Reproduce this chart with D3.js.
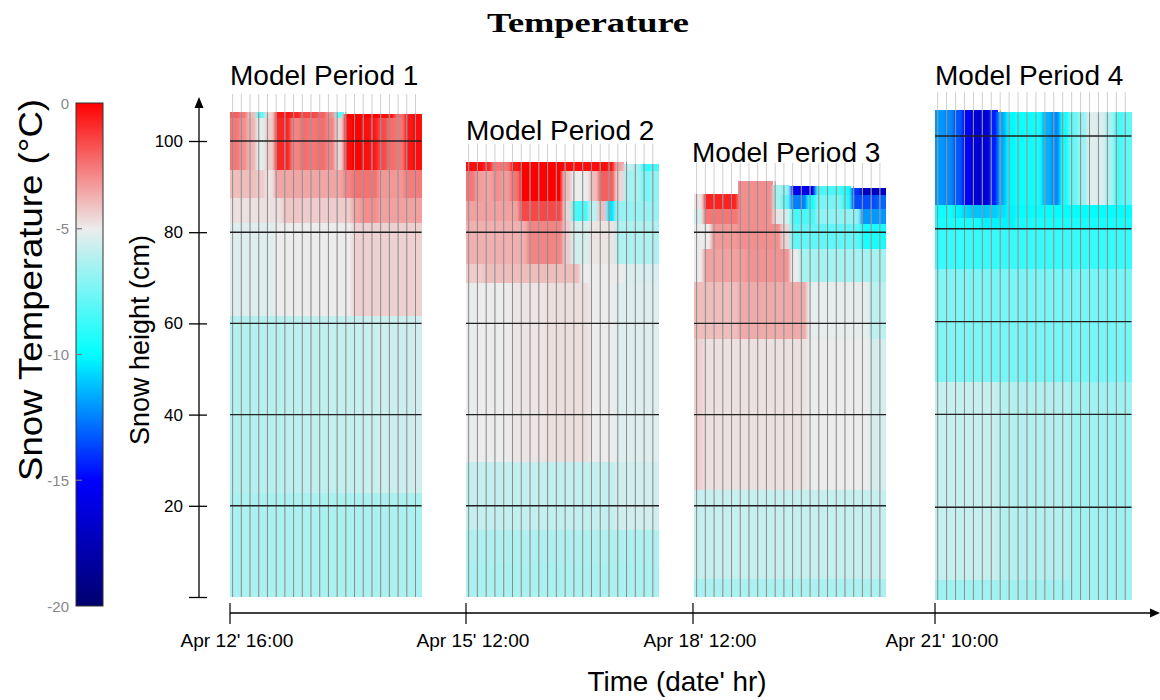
<!DOCTYPE html>
<html>
<head>
<meta charset="utf-8">
<script src="https://cdn.jsdelivr.net/npm/d3@7"></script>
<style>
  html, body { margin: 0; padding: 0; background: #fff; }
  svg { display: block; }
</style>
</head>
<body>
<svg id="chart" width="1160" height="700"></svg>
<script>
// ---------------- DATA ----------------
const chartTitle = "Temperature";
const panelNames = ["Model Period 1", "Model Period 2", "Model Period 3", "Model Period 4"];
const timeTickLabels = ["Apr 12' 16:00", "Apr 15' 12:00", "Apr 18' 12:00", "Apr 21' 10:00"];
const heightTicks = [0, 20, 40, 60, 80, 100];
const colorTicks = [0, -5, -10, -15, -20];
const colorDomain = [-20, -15, -10, -5, 0];
const xAxisTitle = "Time (date' hr)";
const yAxisTitle = "Snow height (cm)";
const colorTitle = "Snow Temperature (°C)";

// Model Period 1: layer bottoms (cm), column tops (cm), temperatures [layer][column] (°C)
const p1Bounds = [0, 22.8, 61.8, 82, 87.5, 93.8, 105.2];
const p1Tops = [106.3,106.3,106.3,106.3,106.3,106.3,106.3,106.3,106.3,106.3,106.3,106.3,106.3,106.0,106.0,106.0,106.0,106.0,106.0,106.0,106.0,106.0];
const p1Temps = [
  [-6.4,-6.4,-6.4,-6.4,-6.4,-6.4,-6.4,-6.4,-6.4,-6.4,-6.4,-6.4,-6.4,-6.4,-6.4,-6.4,-6.4,-6.4,-6.4,-6.4,-6.4,-6.4],
  [-6.2,-6.2,-6.2,-6.15,-6.1,-6.1,-6.05,-6.0,-6.0,-5.95,-5.95,-5.9,-5.9,-5.85,-5.8,-5.75,-5.75,-5.7,-5.7,-5.65,-5.65,-5.6],
  [-5.3,-5.3,-5.3,-5.3,-5.3,-5.0,-5.0,-5.0,-5.0,-5.0,-5.0,-5.0,-5.0,-5.0,-4.4,-4.4,-4.4,-4.4,-4.4,-4.4,-4.4,-4.4],
  [-4.75,-4.75,-4.75,-4.75,-4.75,-4.75,-4.2,-4.2,-4.3,-4.3,-4.3,-4.3,-4.3,-4.3,-3.4,-3.0,-3.0,-3.4,-3.4,-3.4,-3.4,-3.4],
  [-4.0,-4.0,-4.0,-4.3,-4.8,-3.5,-3.5,-3.5,-3.5,-3.5,-3.5,-3.5,-3.5,-2.8,-2.4,-2.4,-2.4,-3.2,-3.2,-3.2,-2.6,-2.6],
  [-2.5,-3.0,-3.8,-5.2,-4.3,-0.8,-0.8,-2.8,-2.3,-2.5,-2.3,-2.8,-4.5,-0.2,0,-0.3,-0.5,-1.5,-2.3,-2.5,-0.5,-0.3],
  [-2.0,-2.5,-4.0,-8.0,-4.5,-0.5,-0.5,-0.8,-1.5,-1.5,-2.0,-3.0,-8.0,0,0,0,0,-0.3,-0.5,-2.3,-0.5,-0.3]
];

// Model Period 2
const p2Bounds = [0, 7.7, 14.7, 29.6, 69, 73.2, 82.6, 87, 93.5];
const p2Tops = [95.4,95.4,95.4,95.4,95.4,95.4,95.4,95.4,95.4,95.4,95.4,95.4,95.4,95.4,95.4,95.4,95.4,95.4,95.0,95.0,95.0,95.0];
const p2Temps = [
  [-6.4,-6.4,-6.4,-6.4,-6.4,-6.4,-6.4,-6.4,-6.4,-6.4,-6.4,-6.4,-6.4,-6.4,-6.4,-6.4,-6.4,-6.4,-6.4,-6.4,-6.4,-6.4],
  [-6.3,-6.3,-6.3,-6.3,-6.3,-6.3,-6.3,-6.3,-6.3,-6.3,-6.3,-6.3,-6.3,-6.3,-6.3,-6.3,-6.3,-6.3,-6.3,-6.3,-6.3,-6.3],
  [-5.9,-5.9,-5.9,-5.9,-5.9,-5.9,-5.9,-5.9,-5.9,-5.9,-5.9,-5.9,-5.9,-5.9,-5.9,-5.9,-5.9,-5.6,-5.6,-5.6,-5.6,-5.6],
  [-5.1,-5.0,-5.0,-5.0,-5.0,-4.85,-4.85,-4.85,-4.85,-4.7,-4.7,-4.7,-4.7,-4.7,-5.0,-5.0,-5.0,-5.3,-5.3,-5.3,-5.3,-5.3],
  [-4.3,-4.3,-4.0,-4.0,-4.0,-4.0,-4.0,-4.0,-4.0,-4.0,-4.0,-4.0,-4.0,-5.0,-5.0,-5.0,-5.0,-5.0,-5.4,-5.4,-5.4,-5.4],
  [-3.7,-3.7,-3.7,-3.7,-3.7,-3.7,-3.7,-2.8,-2.8,-2.8,-2.8,-4.3,-5.5,-5.5,-4.8,-4.8,-4.8,-6.3,-6.3,-6.3,-6.3,-6.3],
  [-3.4,-3.4,-3.4,-3.4,-3.4,-3.4,-1.5,-1.5,-1.5,-1.5,-1.5,-4.5,-8.5,-8.5,-6.0,-4.0,-10.5,-6.8,-6.8,-6.8,-6.8,-6.8],
  [-2.5,-3.3,-3.5,-3.0,-3.3,-2.5,0,0,0,0,0,-4.0,-5.0,-5.0,-4.0,-2.0,-2.0,-4.5,-6.5,-6.5,-7.5,-7.0],
  [-0.3,-0.3,-0.8,-2.5,-2.5,-0.5,0,0,0,0,0,-0.2,-0.2,-0.2,-0.3,-0.3,-0.5,-3.5,-6.0,-6.5,-9.0,-8.5]
];

// Model Period 3
const p3Bounds = [0, 4.1, 23.5, 56.7, 69.1, 76.4, 81.9, 85.2, 88.3];
const p3Tops = [88.4,88.4,88.4,88.4,88.4,91.2,91.2,91.2,91.2,90.3,90.3,90.1,90.1,90.1,90.1,90.1,90.1,90.1,89.6,89.6,89.6,89.6];
const p3Temps = [
  [-6.4,-6.4,-6.4,-6.4,-6.4,-6.4,-6.4,-6.4,-6.4,-6.4,-6.4,-6.4,-6.4,-6.4,-6.4,-6.4,-6.4,-6.4,-6.4,-6.4,-6.4,-6.4],
  [-5.8,-5.8,-5.8,-5.8,-5.8,-5.8,-5.8,-5.8,-5.8,-5.8,-5.8,-5.8,-5.8,-5.8,-5.8,-5.8,-5.8,-5.8,-5.8,-5.8,-5.8,-5.8],
  [-4.4,-4.75,-4.75,-4.75,-4.75,-4.75,-4.75,-4.75,-4.75,-4.75,-4.75,-4.75,-4.75,-5.0,-5.0,-5.0,-5.0,-5.0,-5.0,-5.0,-5.5,-5.5],
  [-4.0,-4.0,-4.0,-4.0,-4.0,-3.6,-3.6,-3.6,-3.6,-3.6,-3.6,-3.6,-3.6,-5.1,-5.1,-5.1,-5.1,-5.1,-5.1,-5.1,-6.0,-6.0],
  [-5.0,-3.4,-3.4,-3.4,-3.4,-3.3,-3.1,-3.1,-3.1,-3.1,-3.1,-5.0,-6.5,-6.5,-6.5,-6.5,-6.5,-6.5,-6.5,-6.5,-6.5,-6.5],
  [-5.0,-5.0,-3.2,-3.2,-3.2,-3.0,-3.0,-3.0,-3.0,-3.0,-4.5,-8.0,-8.0,-8.0,-8.0,-8.0,-8.0,-8.0,-8.0,-9.5,-9.5,-9.5],
  [-5.5,-2.5,-2.5,-2.5,-2.5,-3.0,-3.0,-3.0,-3.0,-4.8,-5.5,-8.5,-8.5,-8.5,-7.0,-7.0,-7.0,-7.0,-7.0,-12.0,-12.0,-12.0],
  [-4.8,-0.7,-0.7,-0.7,-0.7,-3.0,-3.0,-3.0,-3.0,-6.5,-8.0,-12.5,-12.5,-9.5,-7.5,-7.5,-7.5,-9.0,-13.5,-13.5,-13.5,-13.0],
  [-4.8,-0.7,-0.7,-0.7,-0.7,-3.0,-3.0,-3.0,-3.0,-6.5,-7.0,-15.5,-15.5,-15.5,-8.5,-8.5,-8.5,-9.5,-14.0,-17.0,-17.0,-17.0]
];

// Model Period 4
const p4Bounds = [0, 4.3, 47, 71.5, 80, 82.5, 85.3];
const p4Tops = [105.5,105.5,105.5,105.5,105.5,105.5,105.5,105.1,105.1,105.1,105.1,105.1,105.1,105.1,105.1,105.1,105.1,105.1,105.1,105.1,105.1,105.1];
const p4Temps = [
  [-6.6,-6.6,-6.6,-6.6,-6.6,-6.6,-6.6,-6.6,-6.6,-6.6,-6.6,-6.6,-6.6,-6.6,-6.6,-6.6,-6.6,-6.6,-6.6,-6.6,-6.6,-6.6],
  [-5.8,-5.8,-5.8,-5.8,-5.8,-5.8,-5.8,-6.2,-6.2,-6.2,-6.2,-6.2,-6.2,-6.2,-6.2,-6.6,-6.6,-6.6,-6.6,-6.6,-6.6,-6.6],
  [-7.3,-7.3,-7.3,-7.4,-7.4,-7.4,-7.5,-7.5,-7.5,-7.5,-7.5,-7.5,-7.5,-7.5,-7.5,-7.5,-7.5,-7.5,-7.5,-7.5,-7.5,-7.5],
  [-8.9,-8.9,-8.9,-8.9,-8.9,-8.9,-8.9,-8.9,-8.9,-8.9,-8.9,-8.9,-8.9,-8.9,-8.9,-8.9,-8.9,-8.9,-8.9,-8.9,-8.9,-8.9],
  [-9.5,-9.5,-9.5,-9.5,-9.5,-10.2,-10.2,-10.2,-10.2,-9.6,-9.6,-9.6,-9.6,-9.6,-9.6,-9.6,-9.6,-9.6,-9.6,-9.6,-9.6,-9.6],
  [-9.8,-9.8,-10.3,-10.8,-11.2,-11.2,-11.0,-10.6,-10.2,-9.9,-9.9,-9.9,-9.9,-9.9,-9.9,-9.9,-9.9,-9.9,-9.9,-9.9,-9.9,-9.9],
  [-12.0,-12.3,-13.3,-15.0,-16.5,-16.3,-14.5,-11.7,-10.1,-9.8,-9.8,-9.8,-11.5,-12.3,-9.5,-7.8,-6.8,-5.3,-5.4,-6.5,-8.5,-8.0]
];

// ---------------- LAYOUT (positions / styles) ----------------
const panelData = [
  {bounds: p1Bounds, tops: p1Tops, temps: p1Temps},
  {bounds: p2Bounds, tops: p2Tops, temps: p2Temps},
  {bounds: p3Bounds, tops: p3Tops, temps: p3Temps},
  {bounds: p4Bounds, tops: p4Tops, temps: p4Temps}
];
const panelLayout = [
  {x0: 230, x1: 421.6, yBottom: 597, y100: 141, titleX: 230, titleY: 85},
  {x0: 466, x1: 659,   yBottom: 597, y100: 141, titleX: 466, titleY: 140},
  {x0: 694, x1: 886,   yBottom: 597, y100: 141, titleX: 692, titleY: 162},
  {x0: 935, x1: 1131.5, yBottom: 600, y100: 136, titleX: 935, titleY: 85}
];
const tickX = [230, 466, 693, 935];
const sansFont = "'Liberation Sans', Arial, Helvetica, sans-serif";

const svg = d3.select("#chart");
const defs = svg.append("defs");
defs.append("filter").attr("id", "soft")
  .attr("x", "-5%").attr("y", "-5%").attr("width", "110%").attr("height", "110%")
  .append("feGaussianBlur").attr("stdDeviation", "1.6 0.7");

const color = d3.scaleLinear()
  .domain(colorDomain)
  .range(["#00006e", "#0000ff", "#00ffff", "#ececec", "#ff0000"])
  .clamp(true);

// main height scale (axis)
const yMain = d3.scaleLinear().domain([0, 100]).range([597, 141]);

// ---------------- Title ----------------
svg.append("text")
  .attr("x", 588).attr("y", 32)
  .attr("text-anchor", "middle")
  .attr("font-family", "'Liberation Serif', 'Times New Roman', serif")
  .attr("font-weight", "bold")
  .attr("font-size", 28)
  .attr("textLength", 202)
  .attr("lengthAdjust", "spacingAndGlyphs")
  .text(chartTitle);

// ---------------- Panels ----------------
panelData.forEach((pd, pi) => {
  const L = panelLayout[pi];
  const nCols = pd.temps[0].length;
  const x = d3.scaleLinear().domain([0, nCols]).range([L.x0, L.x1]);
  const y = d3.scaleLinear().domain([0, 100]).range([L.yBottom, L.y100]);
  const g = svg.append("g").attr("class", "panel");

  const cells = [];
  pd.temps.forEach((row, r) => {
    row.forEach((v, c) => {
      const lo = pd.bounds[r];
      const hiRaw = r + 1 < pd.bounds.length ? pd.bounds[r + 1] : pd.tops[c];
      const hi = Math.min(hiRaw, pd.tops[c]);
      if (hi > lo) cells.push({c, lo, hi, v});
    });
  });
  const drawCells = (sel) => sel.selectAll("rect").data(cells).join("rect")
    .attr("x", d => x(d.c))
    .attr("width", d => x(d.c + 1) - x(d.c) + 0.4)
    .attr("y", d => y(d.hi))
    .attr("height", d => y(d.lo) - y(d.hi) + 0.4)
    .attr("shape-rendering", "crispEdges");

  // clip of the cell area
  const clipId = "clip" + pi;
  drawCells(defs.append("clipPath").attr("id", clipId));
  // crisp base
  drawCells(g.append("g")).attr("fill", d => color(d.v));
  // softened overlay (mimics the smoothed rendering)
  drawCells(g.append("g").attr("clip-path", `url(#${clipId})`)
      .append("g").attr("filter", "url(#soft)"))
    .attr("fill", d => color(d.v));

  // vertical time grid lines
  const maxTop = d3.max(pd.tops) + 4;
  const cols = d3.range(nCols);
  g.append("g").selectAll("line").data(cols).join("line")
    .attr("x1", c => x(c + 0.3)).attr("x2", c => x(c + 0.3))
    .attr("y1", y(maxTop)).attr("y2", y(0))
    .attr("stroke", "#cfcfcf").attr("stroke-width", 1);
  g.append("g").selectAll("line").data(cols).join("line")
    .attr("x1", c => x(c + 0.3)).attr("x2", c => x(c + 0.3))
    .attr("y1", c => y(Math.max(pd.tops[c], pd.tops[Math.max(c - 1, 0)]))).attr("y2", y(0))
    .attr("stroke", "#555").attr("stroke-opacity", 0.55).attr("stroke-width", 1);

  // horizontal height lines
  const hLines = heightTicks.filter(t => t > 0 && t <= d3.min(pd.tops));
  g.append("g").selectAll("line").data(hLines).join("line")
    .attr("x1", L.x0).attr("x2", L.x1)
    .attr("y1", t => y(t)).attr("y2", t => y(t))
    .attr("stroke", "#222").attr("stroke-width", 1.4);

  // panel title
  svg.append("text")
    .attr("x", L.titleX).attr("y", L.titleY)
    .attr("font-family", sansFont)
    .attr("font-size", 28)
    .attr("fill", "#000")
    .text(panelNames[pi]);
});

// ---------------- Y axis ----------------
const yAxis = d3.axisLeft(yMain)
  .tickValues(heightTicks)
  .tickSizeInner(10).tickSizeOuter(0).tickPadding(6)
  .tickFormat(d => d === 0 ? "" : d);
const yG = svg.append("g").attr("transform", "translate(199,0)").call(yAxis);
yG.select(".domain").remove();
yG.selectAll(".tick line").attr("x1", 8).attr("stroke", "#000").attr("stroke-width", 1.3);
yG.selectAll(".tick text").attr("font-family", sansFont).attr("font-size", 17).attr("fill", "#000");
yG.append("line").attr("x1", 0).attr("x2", 0).attr("y1", yMain(0)).attr("y2", 104)
  .attr("stroke", "#000").attr("stroke-width", 1.3);
yG.append("path").attr("d", "M0,97 L-4.5,108 L4.5,108 Z").attr("fill", "#000");

svg.append("text")
  .attr("transform", "translate(149,340) rotate(-90)")
  .attr("text-anchor", "middle")
  .attr("font-family", sansFont).attr("font-size", 27)
  .text(yAxisTitle);

// ---------------- X axis ----------------
const xAxisY = 613;
svg.append("line").attr("x1", tickX[0]).attr("x2", 1153)
  .attr("y1", xAxisY).attr("y2", xAxisY)
  .attr("stroke", "#000").attr("stroke-width", 1.3);
svg.append("path").attr("d", `M1160,${xAxisY} L1150,${xAxisY - 4.5} L1150,${xAxisY + 4.5} Z`).attr("fill", "#000");
svg.append("g").selectAll("line").data(tickX).join("line")
  .attr("x1", d => d).attr("x2", d => d)
  .attr("y1", xAxisY - 10).attr("y2", xAxisY + 11)
  .attr("stroke", "#000").attr("stroke-width", 1.2);
svg.append("g").selectAll("text").data(timeTickLabels).join("text")
  .attr("x", (d, i) => tickX[i] + 7).attr("y", 647)
  .attr("text-anchor", "middle")
  .attr("font-family", sansFont).attr("font-size", 19)
  .attr("textLength", 113).attr("lengthAdjust", "spacingAndGlyphs")
  .text(d => d);
svg.append("text")
  .attr("x", 677).attr("y", 691)
  .attr("text-anchor", "middle")
  .attr("font-family", sansFont).attr("font-size", 28)
  .attr("textLength", 179).attr("lengthAdjust", "spacingAndGlyphs")
  .text(xAxisTitle);

// ---------------- Colorbar ----------------
const cb = {x: 76, w: 27, top: 103, bottom: 606};
const cScale = d3.scaleLinear().domain([0, -20]).range([cb.top, cb.bottom]);
const grad = defs.append("linearGradient").attr("id", "cbgrad")
  .attr("x1", 0).attr("x2", 0).attr("y1", 0).attr("y2", 1);
d3.range(0, 41).forEach(i => {
  const v = -i * 0.5;
  grad.append("stop").attr("offset", (i / 40)).attr("stop-color", color(v));
});
svg.append("rect").attr("x", cb.x).attr("y", cb.top).attr("width", cb.w).attr("height", cb.bottom - cb.top)
  .attr("fill", "url(#cbgrad)").attr("stroke", "#333").attr("stroke-width", 1);
svg.append("g").selectAll("line").data(colorTicks.filter(t => t !== 0 && t !== -20)).join("line")
  .attr("x1", cb.x).attr("x2", cb.x + 6)
  .attr("y1", d => cScale(d)).attr("y2", d => cScale(d))
  .attr("stroke", "#777").attr("stroke-width", 1.2);
svg.append("g").selectAll("text").data(colorTicks).join("text")
  .attr("x", 69).attr("y", d => cScale(d))
  .attr("text-anchor", "end").attr("dominant-baseline", "central")
  .attr("font-family", sansFont).attr("font-size", 15).attr("fill", "#888")
  .text(d => d);
svg.append("text")
  .attr("transform", "translate(42,290) rotate(-90)")
  .attr("text-anchor", "middle")
  .attr("font-family", sansFont).attr("font-size", 33)
  .attr("textLength", 382).attr("lengthAdjust", "spacingAndGlyphs")
  .text(colorTitle);
</script>
</body>
</html>
